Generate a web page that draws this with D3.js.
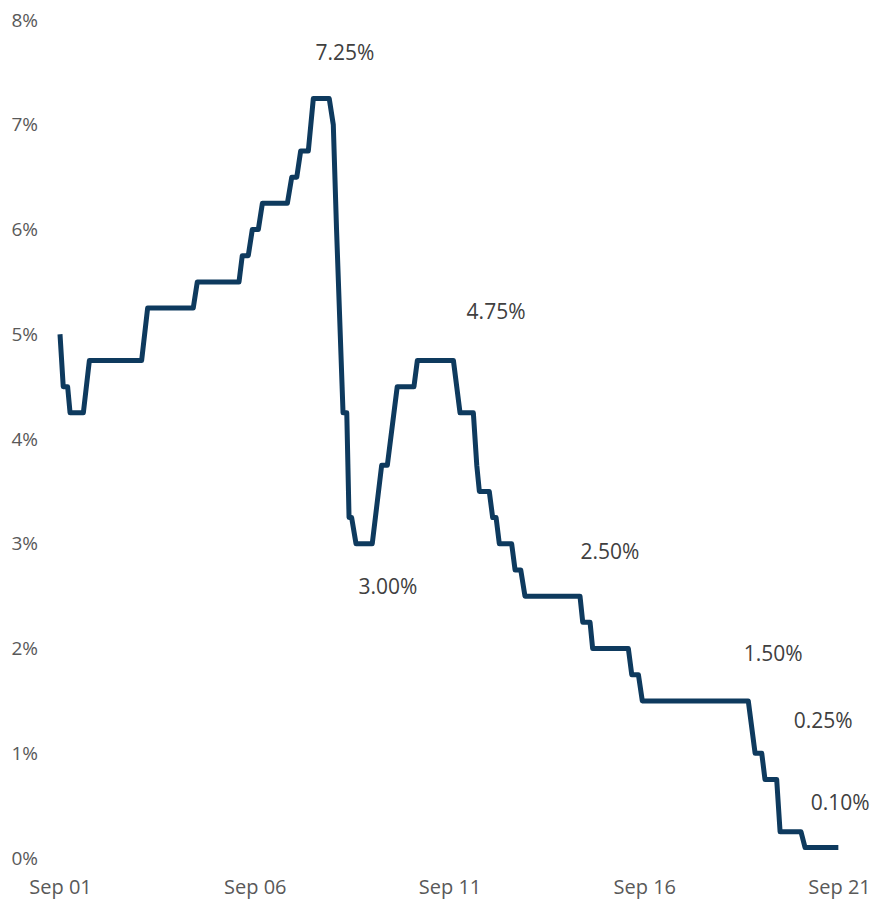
<html>
<head>
<meta http-equiv="Content-Type" content="text/html; charset=utf-8">
<title></title>
<style>
body{ margin: 0; background: #fff; }
.rateline{
	fill: none;
	stroke: #0e3a5e;
	stroke-width: 5px;
	stroke-linejoin: round;
}
.axis text{
	font-family: "Open Sans";
	font-size: 19px;
	fill: #595959;
}
.xaxis text{ font-size: 20px; }
.note{
	font-family: "Open Sans";
	font-size: 21px;
	fill: #404040;
}
</style>

<script src="https://d3js.org/d3.v7.min.js" charset="utf-8"></script>
</head>

<body>

<div id="chart"></div>

<script>
// hours since Sep 01 00:00
var hours = [0, 2.0, 4.7, 6.2, 14.4, 18.1, 50.3, 54.0, 82.1, 84.6,
	110.3, 112.3, 116.0, 118.5, 122.2, 124.7, 140.1, 142.8, 145.9, 148.3,
	153.0, 156.1, 165.9, 168.4, 170.4, 174.4, 176.7, 178.1, 179.7, 182.4,
	192.4, 198.2, 201.7, 207.8, 218.1, 220.2, 242.4, 246.5, 254.7, 256.8,
	258.4, 264.5, 266.6, 268.7, 270.7, 278.3, 280.4, 283.9, 286.5, 320.4,
	322.1, 326.6, 328.2, 350.2, 352.3, 356.4, 358.8, 424.1, 428.3, 432.4,
	434.4, 441.6, 443.7, 456.6, 459.1, 479.6];
// rate in %
var rates = [5.00, 4.50, 4.50, 4.25, 4.25, 4.75, 4.75, 5.25, 5.25, 5.50,
	5.50, 5.75, 5.75, 6.00, 6.00, 6.25, 6.25, 6.50, 6.50, 6.75,
	6.75, 7.25, 7.25, 7.00, 6.00, 4.25, 4.25, 3.25, 3.25, 3.00,
	3.00, 3.75, 3.75, 4.50, 4.50, 4.75, 4.75, 4.25, 4.25, 3.75,
	3.50, 3.50, 3.25, 3.25, 3.00, 3.00, 2.75, 2.75, 2.50, 2.50,
	2.25, 2.25, 2.00, 2.00, 1.75, 1.75, 1.50, 1.50, 1.00, 1.00,
	0.75, 0.75, 0.25, 0.25, 0.10, 0.10];

var yTicks = [0, 1, 2, 3, 4, 5, 6, 7, 8];
var xTickDays = [0, 5, 10, 15, 20];

// callouts, placed in data space
var noteText = ["7.25%", "4.75%", "3.00%", "2.50%", "1.50%", "0.25%", "0.10%"];
var noteHour = [175.6, 268.7, 202.1, 338.9, 439.4, 470.2, 480.7];
var noteRate = [7.69, 5.22, 2.59, 2.92, 1.95, 1.31, 0.53];

var width = 874;
var height = 901;
var base = new Date(2022, 8, 1);
function toDate(h){ return new Date(base.getTime() + h * 3600e3); }

var x = d3.scaleTime()
	.domain([base, d3.timeDay.offset(base, 20)])
	.range([60, 839]);
var y = d3.scaleLinear().domain([0, 8]).range([858, 20]);

var data = hours.map(function(h, i){ return {date: toDate(h), rate: rates[i]}; });

var line = d3.line()
	.x(function(d){ return x(d.date); })
	.y(function(d){ return y(d.rate); });

var svg = d3.select('#chart')
	.append('svg')
	.attr('width', width)
	.attr('height', height);

var yAxis = svg.append('g')
	.attr('class', 'axis')
	.attr('transform', 'translate(60,0)')
	.call(d3.axisLeft(y).tickValues(yTicks).tickSize(0).tickPadding(22)
		.tickFormat(function(d){ return d + '%'; }));
yAxis.select('.domain').remove();

var xAxis = svg.append('g')
	.attr('class', 'axis xaxis')
	.attr('transform', 'translate(0,858)')
	.call(d3.axisBottom(x)
		.tickValues(xTickDays.map(function(d){ return d3.timeDay.offset(base, d); }))
		.tickSize(0).tickPadding(22)
		.tickFormat(d3.timeFormat('%b %d')));
xAxis.select('.domain').remove();

svg.append('path')
	.datum(data)
	.attr('class', 'rateline')
	.attr('d', line);

svg.selectAll('.note')
	.data(noteText)
	.enter().append('text')
	.attr('class', 'note')
	.attr('text-anchor', 'middle')
	.attr('dy', '0.35em')
	.attr('x', function(d, i){ return x(toDate(noteHour[i])); })
	.attr('y', function(d, i){ return y(noteRate[i]); })
	.text(function(d){ return d; });
</script>

</body>
</html>
